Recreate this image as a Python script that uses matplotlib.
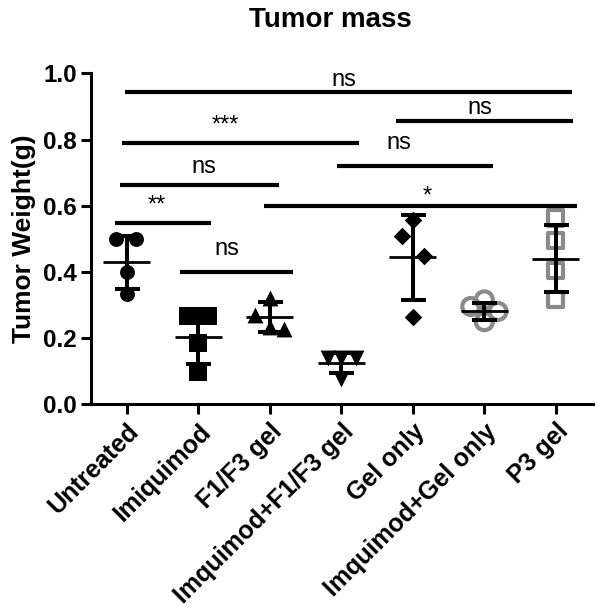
import matplotlib
matplotlib.use('Agg')
import matplotlib.pyplot as plt

plt.rcParams['font.family'] = ['Liberation Sans', 'DejaVu Sans']

groups = ['Untreated', 'Imiquimod', 'F1/F3 gel', 'Imquimod+F1/F3 gel',
          'Gel only', 'Imquimod+Gel only', 'P3 gel']

# individual tumour weights (g)
pts = [
    [0.50, 0.50, 0.40, 0.333],
    [0.267, 0.267, 0.185, 0.098],
    [0.32, 0.27, 0.226, 0.232],
    [0.14, 0.14, 0.14, 0.075],
    [0.558, 0.509, 0.448, 0.263],
    [0.295, 0.315, 0.28, 0.249],
    [0.563, 0.495, 0.404, 0.315],
]
# horizontal scatter of the dots within a column
jitter = [
    [-0.15, 0.13, 0.0, 0.0],
    [-0.14, 0.14, 0.0, 0.0],
    [0.0, -0.2, 0.2, 0.0],
    [-0.18, 0.2, 0.0, 0.0],
    [0.0, -0.15, 0.15, 0.0],
    [-0.19, 0.0, 0.19, 0.0],
    [0.0, 0.0, 0.0, 0.0],
]
means = [0.429, 0.204, 0.263, 0.123, 0.444, 0.28, 0.44]
sds = [0.08, 0.083, 0.045, 0.03, 0.129, 0.027, 0.102]

# significance bars
sig_x1 = [-0.03, 3.77, -0.06, 2.94, -0.09, -0.16, 1.92, 0.75]
sig_x2 = [6.22, 6.24, 3.25, 5.12, 2.13, 1.18, 6.29, 2.32]
sig_y = [0.945, 0.857, 0.79, 0.721, 0.662, 0.548, 0.60, 0.398]
sig_txt = ['ns', 'ns', '***', 'ns', 'ns', '**', '*', 'ns']
sig_tx = [3.03, 4.94, 1.38, 3.8, 1.08, 0.42, 4.2, 1.4]
sig_ty = [0.961, 0.876, 0.824, 0.772, 0.699, 0.582, 0.609, 0.452]

markers = ['o', 's', '^', 'v', 'D', 'o', 's']
filled = [True, True, True, True, True, False, False]
msizes = [115, 150, 130, 130, 80, 150, 120]

fig = plt.figure(figsize=(6, 6.11), dpi=100)
ax = fig.add_axes([0.1517, 0.3388, 0.8367, 0.541])

for i in range(len(groups)):
    xs = [i + j for j in jitter[i]]
    if filled[i]:
        ax.scatter(xs, pts[i], s=msizes[i], marker=markers[i], c='black',
                   linewidths=0, zorder=2)
    else:
        ax.scatter(xs, pts[i], s=msizes[i], marker=markers[i],
                   facecolors='none', edgecolors='#8a8a8a', linewidths=3.0,
                   zorder=2)

xpos = list(range(len(groups)))
ax.errorbar(xpos, means, yerr=sds, fmt='none', ecolor='black',
            elinewidth=2.9, capsize=9, capthick=2.9, zorder=3)
ax.hlines(means, [x - 0.33 for x in xpos], [x + 0.33 for x in xpos],
          colors='black', lw=2.0, zorder=3)

for i in range(len(sig_txt)):
    ax.plot([sig_x1[i], sig_x2[i]], [sig_y[i], sig_y[i]], color='black',
            lw=3.0, solid_capstyle='butt', clip_on=False)
    ax.text(sig_tx[i], sig_ty[i], sig_txt[i], ha='center', va='baseline',
            fontsize=17)

ax.set_xlim(-0.5, 6.52)
ax.set_ylim(0, 1.0)
ax.set_yticks([0, 0.2, 0.4, 0.6, 0.8, 1.0])
ax.set_yticklabels(['0.0', '0.2', '0.4', '0.6', '0.8', '1.0'],
                   fontsize=17.5, fontweight='bold')
ax.set_xticks(xpos)
ax.set_xticklabels(groups, rotation=45, ha='right', rotation_mode='anchor',
                   fontsize=18, fontweight='bold')
ax.spines['top'].set_visible(False)
ax.spines['right'].set_visible(False)
ax.spines['left'].set_linewidth(2.2)
ax.spines['bottom'].set_linewidth(2.2)
ax.tick_params(axis='both', width=2.2, length=7, pad=3)
ax.tick_params(axis='x', pad=4)
ax.set_ylabel('Tumor Weight(g)', fontsize=19, fontweight='bold', labelpad=5)

fig.text(0.55, 0.968, 'Tumor mass', ha='center', va='center', fontsize=20,
         fontweight='bold')

fig.savefig('out.png', dpi=100)
